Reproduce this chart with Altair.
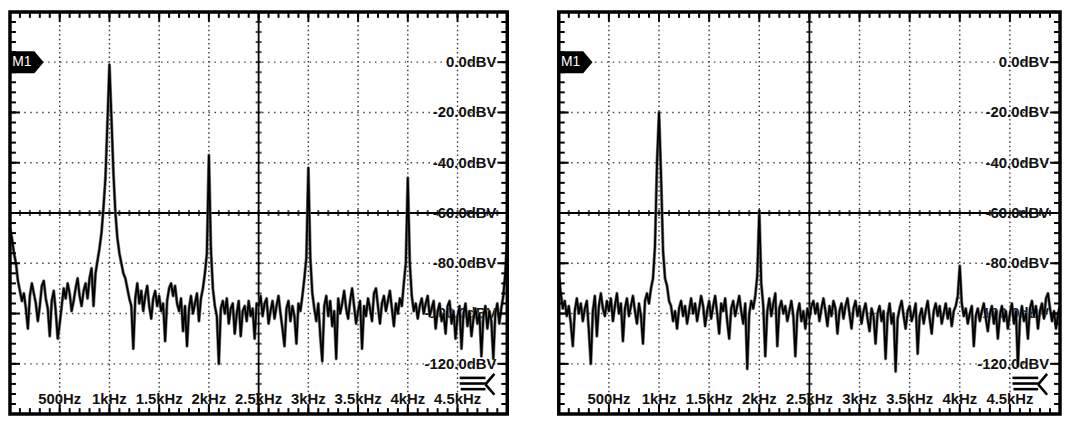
import altair as alt
import pandas as pd

# ---------------- data ----------------
FREQ_STEP_HZ = 20  # spacing of the trace samples, 0 .. 5000 Hz

LEFT_DBV = [
    -66, -70, -76, -80, -87, -91, -95, -92, -98, -106, -93, -88, -92, -96, -103, -97, -89, -87, -94, -98, -109, -95, -91, -99, -110,
    -104, -97, -90, -94, -88, -92, -99, -95, -90, -86, -93, -97, -91, -88, -94, -86, -82, -97, -84, -79, -74, -68, -58, -46, -24,
    -1, -22, -44, -60, -70, -76, -80, -84, -86, -90, -94, -97, -114, -94, -88, -96, -91, -99, -93, -89, -97, -102, -94, -91, -97,
    -93, -99, -96, -111, -95, -90, -88, -93, -89, -96, -99, -94, -107, -97, -113, -98, -93, -100, -96, -92, -103, -94, -90, -84, -76,
    -37, -74, -90, -97, -101, -120, -98, -95, -100, -94, -104, -98, -96, -108, -100, -95, -109, -99, -97, -103, -95, -101, -98, -110, -96,
    -97, -93, -101, -96, -94, -104, -99, -95, -102, -97, -93, -100, -106, -113, -98, -95, -103, -97, -101, -112, -96, -99, -93, -86, -78,
    -42, -78, -92, -98, -103, -96, -109, -119, -97, -93, -101, -95, -105, -99, -118, -94, -100, -96, -91, -98, -102, -95, -90, -97, -104,
    -99, -95, -114, -97, -101, -94, -98, -103, -92, -90, -97, -104, -96, -93, -99, -95, -91, -98, -105, -96, -100, -94, -97, -88, -80,
    -46, -80, -93, -99, -96, -102, -97, -94, -100, -96, -93, -101, -98, -95, -106, -99, -96, -103, -100, -108, -97, -95, -104, -99, -110,
    -101, -97, -114, -100, -96, -105, -99, -109, -102, -98, -104, -100, -117, -101, -97, -106, -99, -103, -118, -100, -96, -104, -98, -93, -84,
    -70,
]

RIGHT_DBV = [
    -84, -92, -98, -95, -101, -97, -104, -113, -99, -94, -100, -96, -103, -98, -95, -107, -120, -99, -93, -109, -97, -92, -98, -101, -95,
    -99, -94, -103, -97, -92, -100, -96, -111, -98, -94, -101, -97, -93, -99, -104, -96, -101, -112, -95, -92, -96, -90, -86, -73, -40,
    -20, -45, -75, -86, -89, -95, -97, -103, -99, -106, -98, -95, -101, -97, -104, -99, -94, -100, -96, -103, -98, -93, -97, -105, -99,
    -95, -102, -97, -93, -100, -108, -96, -99, -94, -103, -110, -98, -95, -101, -97, -93, -99, -104, -96, -122, -100, -95, -98, -93, -85,
    -59, -88, -97, -117, -99, -94, -101, -96, -92, -113, -98, -95, -100, -97, -103, -99, -95, -101, -117, -100, -96, -103, -99, -106, -98,
    -102, -97, -95, -100, -96, -103, -98, -94, -99, -105, -97, -101, -95, -98, -108, -99, -96, -102, -97, -94, -100, -106, -98, -95, -101,
    -97, -104, -99, -96, -102, -107, -98, -101, -112, -100, -97, -103, -99, -118, -101, -96, -104, -100, -123, -102, -98, -95, -101, -106, -99,
    -97, -103, -100, -96, -116, -101, -98, -104, -99, -95, -102, -108, -99, -96, -101, -97, -104, -100, -96, -102, -98, -105, -99, -97, -93,
    -81, -96, -101, -98, -104, -100, -97, -113, -101, -98, -103, -99, -96, -102, -107, -100, -97, -104, -99, -110, -101, -97, -103, -99, -106,
    -100, -96, -104, -99, -121, -102, -97, -103, -100, -110, -98, -95, -101, -97, -106, -99, -96, -102, -94, -92, -98, -103, -99, -106, -100,
    -97,
]

X_DOMAIN = [0, 5000]
Y_DOMAIN = [-140, 20]

GRID_FREQS = [500, 1000, 1500, 2000, 3000, 3500, 4000, 4500]
CENTER_FREQ = [2500]
GRID_DBV = [0, -20, -40, -80, -100, -120]
CENTER_DBV = [-60]

MINOR_FREQS = list(range(0, 5001, 100))
MINOR_DBV = list(range(-140, 21, 4))

FREQ_LABELS = ["500Hz", "1kHz", "1.5kHz", "2kHz", "2.5kHz", "3kHz", "3.5kHz", "4kHz", "4.5kHz"]
FREQ_LABEL_POS = [500, 1000, 1500, 2000, 2500, 3000, 3500, 4000, 4500]
FREQ_LABEL_DBV = -134

DBV_LABELS = ["0.0dBV", "-20.0dBV", "-40.0dBV", "-60.0dBV", "-80.0dBV", "-100.0dBV", "-120.0dBV"]
DBV_LABEL_POS = [0, -20, -40, -60, -80, -100, -120]

MARKER_TEXT = ["M1"]
MARKER_DBV = [0]

FONT = "Liberation Sans"
H = 406


def panel(values, W):
    xs = alt.Scale(domain=X_DOMAIN, nice=False, zero=False)
    ys = alt.Scale(domain=Y_DOMAIN, nice=False, zero=False)
    X = lambda: alt.X("f:Q", scale=xs, axis=None)
    Y = lambda: alt.Y("db:Q", scale=ys, axis=None)

    trace_df = pd.DataFrame({"f": [i * FREQ_STEP_HZ for i in range(len(values))], "db": values})

    layers = []
    # dotted grid
    layers.append(alt.Chart(pd.DataFrame({"f": GRID_FREQS})).mark_rule(
        color="#333", strokeWidth=1.4, strokeDash=[1.5, 3]).encode(x=X()))
    layers.append(alt.Chart(pd.DataFrame({"db": GRID_DBV})).mark_rule(
        color="#444", strokeWidth=1.4, strokeDash=[1.5, 4.5]).encode(y=Y()))
    # solid centre lines
    layers.append(alt.Chart(pd.DataFrame({"f": CENTER_FREQ})).mark_rule(
        color="black", strokeWidth=1.8).encode(x=X()))
    layers.append(alt.Chart(pd.DataFrame({"db": CENTER_DBV})).mark_rule(
        color="black", strokeWidth=1.8).encode(y=Y()))
    # centre-line minor ticks
    layers.append(alt.Chart(pd.DataFrame({"f": MINOR_FREQS, "db": CENTER_DBV * len(MINOR_FREQS)})).mark_tick(
        orient="vertical", size=6, thickness=2, color="black").encode(x=X(), y=Y()))
    layers.append(alt.Chart(pd.DataFrame({"db": MINOR_DBV, "f": CENTER_FREQ * len(MINOR_DBV)})).mark_tick(
        orient="horizontal", size=6, thickness=2, color="black").encode(x=X(), y=Y()))

    # right-hand level labels
    layers.append(alt.Chart(pd.DataFrame({"db": DBV_LABEL_POS, "label": DBV_LABELS})).mark_text(
        align="right", baseline="middle", font=FONT, fontSize=15, fontWeight="bold", color="#111"
    ).encode(x=alt.value(W - 11), y=Y(), text="label:N"))
    # bottom frequency labels
    layers.append(alt.Chart(pd.DataFrame({"f": FREQ_LABEL_POS, "label": FREQ_LABELS,
                                          "db": [FREQ_LABEL_DBV] * len(FREQ_LABELS)})).mark_text(
        align="center", baseline="middle", font=FONT, fontSize=15, fontWeight="bold", color="#111"
    ).encode(x=X(), y=Y(), text="label:N"))

    # spectrum trace
    layers.append(alt.Chart(trace_df).mark_line(color="#666", strokeWidth=3.2, opacity=0.85,
                                                strokeJoin="round").encode(x=X(), y=Y()))
    layers.append(alt.Chart(trace_df).mark_line(color="#000", strokeWidth=1.8,
                                                strokeJoin="round").encode(x=X(), y=Y()))

    # border ticks
    minor_f = pd.DataFrame({"f": MINOR_FREQS})
    major_f = pd.DataFrame({"f": GRID_FREQS + CENTER_FREQ})
    minor_d = pd.DataFrame({"db": MINOR_DBV[1:-1]})
    major_d = pd.DataFrame({"db": GRID_DBV + CENTER_DBV})
    for df, ln in ((minor_f, 6), (major_f, 10)):
        layers.append(alt.Chart(df).mark_rule(color="black", strokeWidth=2).encode(
            x=X(), y=alt.value(0), y2=alt.value(ln)))
        layers.append(alt.Chart(df).mark_rule(color="black", strokeWidth=2).encode(
            x=X(), y=alt.value(H - ln), y2=alt.value(H)))
    for df, ln in ((minor_d, 6), (major_d, 10)):
        layers.append(alt.Chart(df).mark_rule(color="black", strokeWidth=2).encode(
            y=Y(), x=alt.value(0), x2=alt.value(ln)))
        layers.append(alt.Chart(df).mark_rule(color="black", strokeWidth=2).encode(
            y=Y(), x=alt.value(W - ln), x2=alt.value(W)))

    dummy = pd.DataFrame({"k": [0]})
    # frame
    layers.append(alt.Chart(dummy).mark_rect(fillOpacity=0, stroke="black", strokeWidth=3.5).encode(
        x=alt.value(0), x2=alt.value(W), y=alt.value(0), y2=alt.value(H)))

    # menu icon (bottom right)
    for fy, x0 in ((0.910, W - 48), (0.924, W - 48), (0.938, W - 47)):
        layers.append(alt.Chart(dummy).mark_rule(color="black", strokeWidth=2.6).encode(
            x=alt.value(x0), x2=alt.value(W - 22), y=alt.value(H * fy)))
    layers.append(alt.Chart(dummy).mark_rule(color="black", strokeWidth=2.6).encode(
        x=alt.value(W - 13), x2=alt.value(W - 22), y=alt.value(H * 0.900), y2=alt.value(H * 0.926)))
    layers.append(alt.Chart(dummy).mark_rule(color="black", strokeWidth=2.6).encode(
        x=alt.value(W - 22), x2=alt.value(W - 13), y=alt.value(H * 0.926), y2=alt.value(H * 0.952)))

    # M1 marker tag
    marker_df = pd.DataFrame({"db": MARKER_DBV, "label": MARKER_TEXT})
    layers.append(alt.Chart(marker_df).mark_point(
        shape="M-1,-0.65L0.45,-0.65L1,0L0.45,0.65L-1,0.65Z", size=34 * 34,
        filled=True, color="black", opacity=1, strokeWidth=0
    ).encode(x=alt.value(17), y=Y()))
    layers.append(alt.Chart(marker_df).mark_text(
        align="center", baseline="middle", font=FONT, fontSize=14, color="white"
    ).encode(x=alt.value(12), y=Y(), text="label:N"))

    return alt.layer(*layers).properties(width=W, height=H)


left = panel(LEFT_DBV, 502)
right = panel(RIGHT_DBV, 506)

chart = alt.hconcat(
    left, right, spacing=52, bounds="flush",
    padding={"left": 0, "top": 0, "right": 0, "bottom": 0},
    background="white",
).configure(padding=0).configure_view(strokeWidth=0)

chart.save("out.html", embed_options={"renderer": "svg", "actions": False})
